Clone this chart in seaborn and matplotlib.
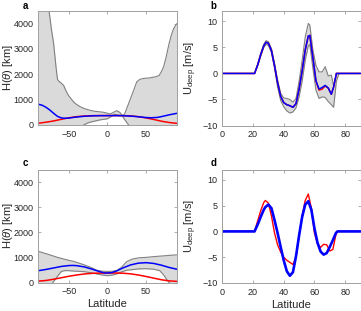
import numpy as np
import pandas as pd
import matplotlib
matplotlib.use("Agg")
import matplotlib.pyplot as plt
import seaborn as sns

# ---------------- data: H(theta) panels (a, c) ----------------
lat_blue_a = [-90, -85, -80, -75, -70, -65, -60, -55, -50, -40, -30, -20, -10, 0, 10, 20, 30, 40, 50, 57, 65, 70, 80, 90]
h_blue_a = [820, 780, 700, 590, 460, 340, 280, 265, 275, 315, 345, 362, 368, 370, 370, 366, 352, 325, 295, 285, 300, 330, 400, 460]

lat_red = [-90, -80, -70, -60, -50, -40, -30, -20, -10, 0, 10, 20, 30, 40, 50, 60, 70, 80, 90]
h_red_a = [70, 110, 160, 225, 285, 330, 355, 368, 372, 372, 372, 370, 360, 330, 280, 220, 150, 100, 65]
h_red_c = [55, 80, 130, 190, 250, 300, 340, 365, 375, 378, 378, 370, 345, 300, 240, 175, 110, 65, 45]

lat_band_a = [-90, -80, -76, -73, -70, -67, -65, -63, -60, -57, -54, -51, -46, -42, -36, -33, -31, -25,
              -20, -16, -10, -5, -1, 3, 6, 9, 12, 16, 19, 22, 25, 27.5, 30, 35, 38, 42, 47, 55, 62,
              67, 70, 73, 76, 80, 83, 86, 90]
h_up_a = [6000, 5200, 4500, 3800, 3200, 2300, 1800, 1720, 1650, 1560, 1350, 1180, 980, 850, 730, 690, 657, 600,
          560, 540, 520, 500, 470, 435, 470, 520, 563, 500, 380, 420, 650, 850, 1050, 1450, 1700, 1800, 1840, 1860, 1900,
          1950, 2100, 2300, 2650, 3200, 3550, 3800, 4000]
h_lo_a = [-400, -400, -400, -400, -400, -400, -400, -400, -400, -400, -400, -400, -400, -400, -300, -60, 0, 90,
          130, 157, 200, 225, 236, 300, 366, 420, 400, 380, 366, 230, 100, 0, -150, -400, -400, -400, -400, -400, -400,
          -400, -400, -400, -400, -400, -400, -400, -400]

lat_c = [-90, -80, -75, -71, -65, -60, -55, -50, -44, -38, -30, -20, -14, -7, 0, 7, 12, 18, 25, 32, 40, 50,
         60, 68, 73, 77, 80, 85, 90]
h_up_c = [1240, 1150, 1100, 1060, 1000, 960, 920, 880, 840, 780, 700, 580, 490, 450, 440, 450, 480, 600, 830, 930, 980, 1000,
          1030, 1050, 1060, 1070, 1080, 1090, 1100]
h_lo_c = [-300, -200, -150, 0, 250, 440, 475, 470, 455, 445, 430, 380, 340, 300, 270, 300, 340, 420, 490, 510, 540, 550,
          530, 470, 300, 120, 0, -150, -300]

lat_blue_c = [-90, -80, -70, -60, -50, -45, -40, -30, -20, -10, -3, 5, 12, 20, 30, 40, 50, 60, 70, 80, 90]
h_blue_c = [470, 520, 580, 640, 675, 680, 670, 620, 530, 430, 375, 390, 460, 580, 700, 770, 790, 760, 690, 600, 530]

# ---------------- data: U_deep panels (b, d) ----------------
lat_b = [0, 21, 23, 25, 27, 28.5, 30, 32, 34, 36, 38, 40, 42, 44, 46, 48, 50, 52, 54, 56, 57, 59, 61, 63, 65,
         67, 69, 71, 72.5, 74.3, 76, 90]
u_blue_b = [0, 0, 1.6, 3.6, 5.3, 6.0, 5.8, 4.4, 1.5, -1.8, -4.4, -5.6, -6.0, -6.2, -6.5, -5.8, -3.0, 0.5, 4.5, 7.2,
            7.3, 3.0, -1.4, -3.0, -2.7, -2.3, -2.8, -4.0, -2.6, 0, 0, 0]
u_red_b = [0, 0, 1.6, 3.6, 5.3, 6.0, 5.8, 4.4, 1.5, -1.8, -4.4, -5.6, -6.0, -6.2, -6.5, -5.8, -3.0, 0.5, 4.5, 7.2,
           7.3, 3.0, -1.5, -3.2, -3.0, -2.4, -2.8, -4.0, -2.6, 0, 0, 0]
u_up_b = [0, 0, 1.8, 3.9, 5.6, 6.3, 6.1, 4.8, 2.0, -1.2, -3.8, -4.7, -4.8, -5.0, -5.5, -4.8, -1.5, 2.5, 7.0, 9.6,
          9.3, 4.5, 1.5, 0.3, 0.3, 1.3, -0.5, -0.3, -2.4, 0, 0, 0]
u_lo_b = [0, 0, 1.4, 3.3, 5.0, 5.6, 5.4, 4.0, 1.0, -2.6, -5.2, -6.4, -7.2, -7.6, -7.4, -6.6, -4.5, -1.5, 2.5, 5.3,
          5.5, 1.0, -3.2, -4.8, -4.5, -4.6, -5.4, -6.0, -6.5, -1.5, 0, 0]

lat_d = [0, 21, 23, 25, 27, 28, 30, 32, 34, 36, 38, 40, 42, 44, 46, 48, 50, 52, 54, 56, 58, 60, 62, 64, 66,
         68, 70, 72, 74, 75, 90]
u_blue_d = [0, 0, 1.3, 2.8, 4.2, 4.7, 5.2, 4.5, 2.2, -0.3, -3.0, -5.6, -7.7, -8.6, -7.9, -4.8, -0.8, 2.8, 5.2, 5.85,
            4.2, 0.6, -2.2, -3.9, -4.5, -4.2, -3.0, -1.7, -0.3, 0, 0]
u_red_d = [0, 0, 2.0, 4.0, 5.6, 6.0, 5.5, 3.0, -0.3, -2.6, -4.0, -5.0, -5.6, -6.0, -6.4, -5.0, -0.8, 3.0, 6.0, 7.25,
           4.5, -0.3, -2.4, -3.1, -2.5, -2.6, -3.8, -3.5, -0.6, 0, 0]

# ---------------- style ----------------
sns.set_theme(style="ticks")
plt.rcParams["font.family"] = ["Liberation Sans", "DejaVu Sans"]
plt.rcParams["mathtext.fontset"] = "custom"
plt.rcParams["mathtext.rm"] = "Liberation Sans"
plt.rcParams["mathtext.it"] = "Liberation Sans:italic"

RED = "#ff0000"
BLUE = "#0000ff"
GREY_FILL = "#dadada"
GREY_LINE = "#808080"
TXT = "#262626"
FRAME = "#a0a0a0"

fig = plt.figure(figsize=(3.61, 3.11), dpi=100)
W, H = 361.0, 311.0


def make_ax(x0, x1, y_top, y_bot):
    return fig.add_axes([x0 / W, 1 - y_bot / H, (x1 - x0) / W, (y_bot - y_top) / H])


ax_a = make_ax(38.3, 176.7, 11, 125)
ax_b = make_ax(222.3, 360.5, 11, 125.5)
ax_c = make_ax(38.3, 176.7, 169.5, 282.5)
ax_d = make_ax(222.3, 360.5, 169.5, 283)


def style(ax):
    for s in ax.spines.values():
        s.set_color(FRAME)
        s.set_linewidth(0.7)
    ax.tick_params(direction="in", length=2.5, width=0.6, color=FRAME, labelcolor=TXT,
                   labelsize=6.5, top=True, right=True, pad=3.5)


# panel a
ax = ax_a
ax.fill_between(lat_band_a, h_lo_a, h_up_a, color=GREY_FILL, lw=0)
sns.lineplot(x=lat_band_a, y=h_up_a, ax=ax, color=GREY_LINE, lw=0.8)
sns.lineplot(x=lat_band_a, y=h_lo_a, ax=ax, color=GREY_LINE, lw=0.8)
sns.lineplot(x=lat_red, y=h_red_a, ax=ax, color=RED, lw=1.1)
sns.lineplot(x=lat_blue_a, y=h_blue_a, ax=ax, color=BLUE, lw=1.1)

# panel c
ax = ax_c
ax.fill_between(lat_c, h_lo_c, h_up_c, color=GREY_FILL, lw=0)
sns.lineplot(x=lat_c, y=h_up_c, ax=ax, color=GREY_LINE, lw=0.8)
sns.lineplot(x=lat_c, y=h_lo_c, ax=ax, color=GREY_LINE, lw=0.8)
sns.lineplot(x=lat_red, y=h_red_c, ax=ax, color=RED, lw=1.1)
sns.lineplot(x=lat_blue_c, y=h_blue_c, ax=ax, color=BLUE, lw=1.1)

for ax in (ax_a, ax_c):
    ax.set_xlim(-90, 90)
    ax.set_ylim(0, 4500)
    ax.set_xticks([-50, 0, 50])
    ax.set_yticks([0, 1000, 2000, 3000, 4000])
    ax.set_ylabel(r"H($\theta$) [km]", fontsize=8, color=TXT)
    ax.yaxis.set_label_coords(-0.168, 0.5)
    style(ax)
ax_a.set_xlabel("")
ax_c.set_xlabel("Latitude", fontsize=8, color=TXT, labelpad=2)

# panel b
ax = ax_b
ax.fill_between(lat_b, u_lo_b, u_up_b, color=GREY_FILL, lw=0)
sns.lineplot(x=lat_b, y=u_up_b, ax=ax, color=GREY_LINE, lw=0.8)
sns.lineplot(x=lat_b, y=u_lo_b, ax=ax, color=GREY_LINE, lw=0.8)
sns.lineplot(x=lat_b, y=u_red_b, ax=ax, color=RED, lw=1.1)
sns.lineplot(x=lat_b, y=u_blue_b, ax=ax, color=BLUE, lw=1.1)

# panel d
ax = ax_d
sns.lineplot(x=lat_d, y=u_red_d, ax=ax, color=RED, lw=1.0)
sns.lineplot(x=lat_d, y=u_blue_d, ax=ax, color=BLUE, lw=1.9)

for ax in (ax_b, ax_d):
    ax.set_xlim(0, 90)
    ax.set_ylim(-10, 12)
    ax.set_xticks([0, 20, 40, 60, 80])
    ax.set_yticks([-10, -5, 0, 5, 10])
    ax.set_ylabel(r"U$_{\rm deep}$ [m/s]", fontsize=8, color=TXT)
    ax.yaxis.set_label_coords(-0.17, 0.5)
    style(ax)
ax_b.set_xlabel("")
ax_d.set_xlabel("Latitude", fontsize=8, color=TXT, labelpad=2)

# panel letters
for lbl, (px, py) in zip("abcd", [(25.7, 6), (213.3, 6), (25.7, 163.5), (213.3, 163.5)]):
    fig.text(px / W, 1 - py / H, lbl, fontsize=7, fontweight="bold", color="black",
             ha="center", va="center")

fig.savefig("out.png", dpi=100)
